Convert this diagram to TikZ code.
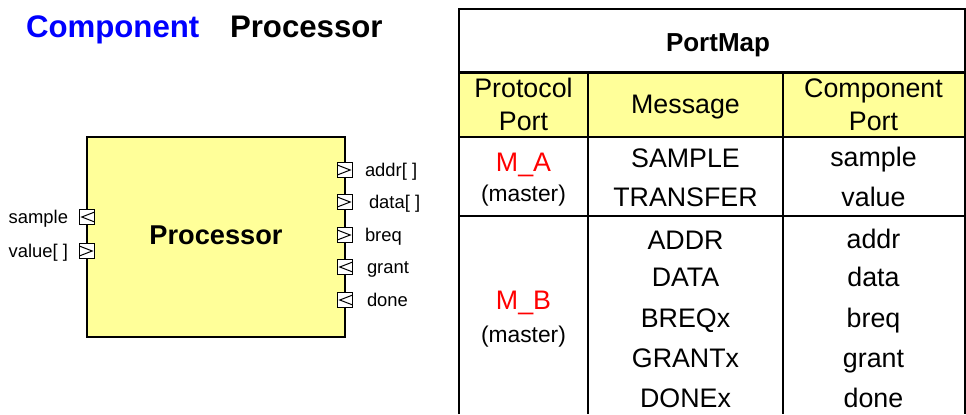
\documentclass[tikz,border=0pt]{standalone}
\usepackage{fontspec}
\setmainfont{Liberation Sans}
\definecolor{boxyellow}{HTML}{FFFF99}
\definecolor{titleblue}{HTML}{0000FF}
\definecolor{portred}{HTML}{FF0000}
\begin{document}
\begin{tikzpicture}[x=0.5pt,y=-0.5pt,
  every node/.style={inner sep=0pt, outer sep=0pt},
  bigtitle/.style={font=\fontsize{15.6pt}{18pt}\selectfont\bfseries, anchor=base west},
  cell/.style={font=\fontsize{13.4pt}{16pt}\selectfont, anchor=base},
  small/.style={font=\fontsize{11.4pt}{13pt}\selectfont, anchor=base},
  portlbl/.style={font=\fontsize{9.2pt}{11pt}\selectfont},
  tline/.style={line width=1pt, black},
  portbox/.style={draw, fill=white, line width=0.55pt, minimum size=7.2pt},
  outport/.style={portbox, path picture={
     \draw[line width=0.5pt] ([yshift=-1.2pt]path picture bounding box.north west)
        -- ([xshift=-1pt]path picture bounding box.east)
        -- ([yshift=1.2pt]path picture bounding box.south west);}},
  inport/.style={portbox, path picture={
     \draw[line width=0.5pt] ([yshift=-1.2pt]path picture bounding box.north east)
        -- ([xshift=1pt]path picture bounding box.west)
        -- ([yshift=1.2pt]path picture bounding box.south east);}}
]
\useasboundingbox (0,0) rectangle (966,414);
\fill[white] (0,0) rectangle (966,414);

% titles
\node[bigtitle, text=titleblue] (tcomp) at (26,37) {Component};
\node[bigtitle] (tproc) at (230,37) {Processor};

% component box
\node[draw, line width=1pt, fill=boxyellow, minimum width=129pt, minimum height=100pt, anchor=north west] (comp) at (87,137) {};
\node[font=\fontsize{13.6pt}{16pt}\selectfont\bfseries, anchor=base] (compname) at (216,244) {Processor};

% left ports
\node[inport] (psample) at (87,217) {};
\node[outport] (pvalue) at (87,251) {};
\node[portlbl, anchor=base east] (lsample) at (68,223.5) {sample};
\node[portlbl, anchor=base east] (lvalue) at (68,257.5) {value[ ]};

% right ports
\node[outport] (paddr) at (345,170) {};
\node[outport] (pdata) at (345,202) {};
\node[outport] (pbreq) at (345,235) {};
\node[inport] (pgrant) at (345,267) {};
\node[inport] (pdone) at (345,300) {};
\node[portlbl, anchor=base west] (laddr) at (365,176.5) {addr[ ]};
\node[portlbl, anchor=base west] (ldata) at (369,208.5) {data[ ]};
\node[portlbl, anchor=base west] (lbreq) at (365,241.5) {breq};
\node[portlbl, anchor=base west] (lgrant) at (367,273.5) {grant};
\node[portlbl, anchor=base west] (ldone) at (367,306.5) {done};

% table
\fill[boxyellow] (459,72) rectangle (964,137);
\draw[tline] (459,414) -- (459,8.5) -- (964.5,8.5) -- (964.5,414);
\draw[line width=1.4pt] (459,72.5) -- (964.5,72.5);
\draw[tline] (459,137) -- (964.5,137);
\draw[tline] (459,216) -- (964.5,216);
\draw[tline] (588,72.5) -- (588,414);
\draw[tline] (783,72.5) -- (783,414);

\node[font=\fontsize{13pt}{16pt}\selectfont\bfseries, anchor=base] (portmap) at (718,51) {PortMap};

\node[cell] (hproto1) at (523.5,97.5) {Protocol};
\node[cell] (hproto2) at (523.5,130.5) {Port};
\node[cell] (hmsg) at (685.5,113.5) {Message};
\node[cell] (hcomp1) at (873.5,97.5) {Component};
\node[cell] (hcomp2) at (873.5,130.5) {Port};

\node[cell, text=portred] (ma) at (523.5,171.5) {M\_A};
\node[small] (mam) at (523.5,201) {(master)};
\node[cell] (msample) at (685.5,167.5) {SAMPLE};
\node[cell] (mtransfer) at (685.5,206.5) {TRANSFER};
\node[cell] (csample) at (873.5,166) {sample};
\node[cell] (cvalue) at (873.5,206.5) {value};

\node[cell, text=portred] (mb) at (523.5,309.5) {M\_B};
\node[small] (mbm) at (523.5,342) {(master)};
\node[cell] (maddr) at (685.5,249.5) {ADDR};
\node[cell] (mdata) at (685.5,286.5) {DATA};
\node[cell] (mbreq) at (685.5,327.5) {BREQx};
\node[cell] (mgrant) at (685.5,367.5) {GRANTx};
\node[cell] (mdone) at (685.5,407.5) {DONEx};
\node[cell] (caddr) at (873.5,248) {addr};
\node[cell] (cdata) at (873.5,286.5) {data};
\node[cell] (cbreq) at (873.5,327.5) {breq};
\node[cell] (cgrant) at (873.5,367.5) {grant};
\node[cell] (cdone) at (873.5,407.5) {done};
\end{tikzpicture}
\end{document}
